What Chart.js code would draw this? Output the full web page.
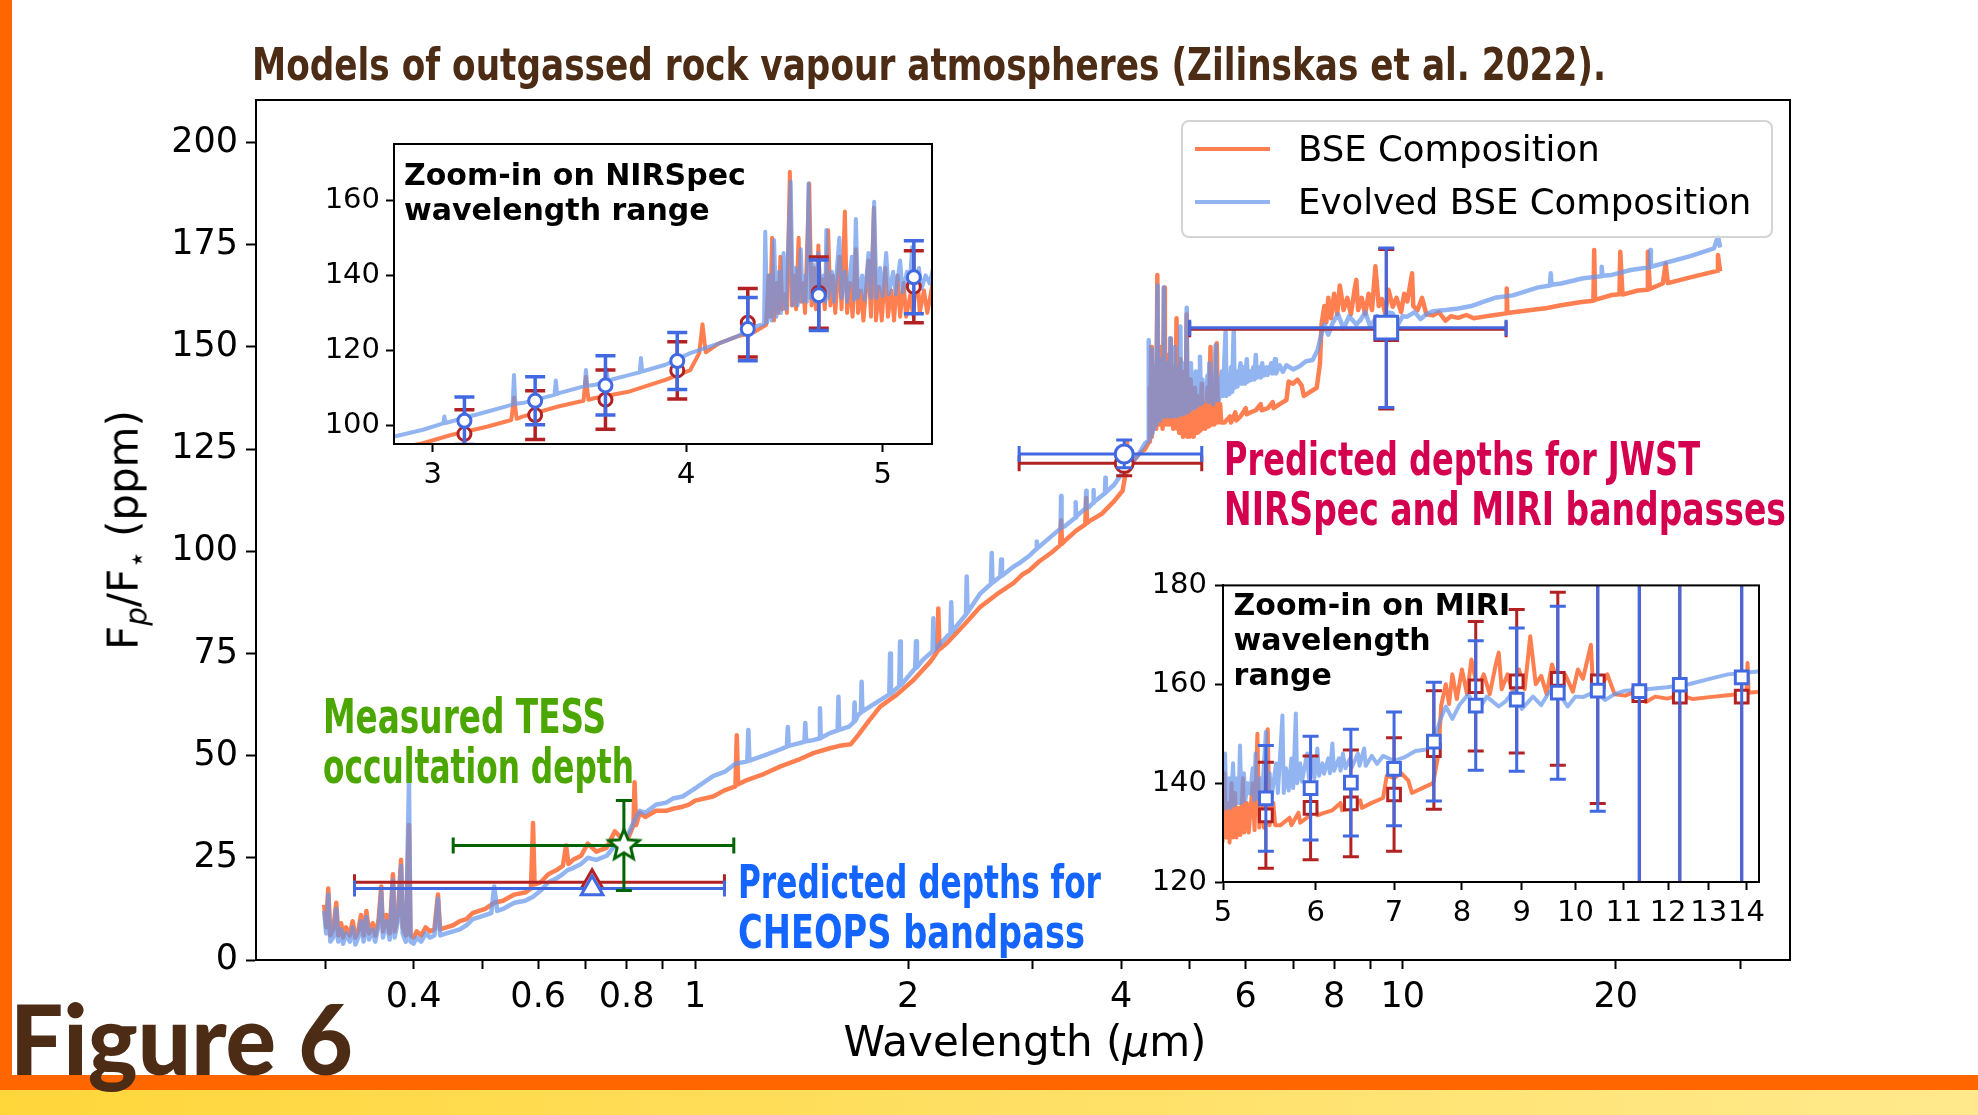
<!DOCTYPE html>
<html>
<head>
<meta charset="utf-8">
<title>Rock vapour atmospheres</title>
<script src="https://cdn.jsdelivr.net/npm/chart.js@4.4.1/dist/chart.umd.min.js"></script>
<style>
  html, body { margin: 0; padding: 0; background: #fff; }
  #page { position: relative; width: 1978px; height: 1115px; overflow: hidden; background: #fff; }
  #page canvas { position: absolute; }
  .txt { position: absolute; white-space: nowrap; transform-origin: 0 0; }
  #leftBar { position: absolute; left: 0; top: 0; width: 12px; height: 1075px; background: #ff6600; }
  #band { position: absolute; left: 0; top: 1075px; width: 1978px; height: 15px; background: #ff6600; }
  #strip { position: absolute; left: 0; top: 1090px; width: 1978px; height: 25px; background: linear-gradient(to right, #ffd63a, #ffe98c); }
  #legend { position: absolute; left: 1181px; top: 120px; width: 588px; height: 114px; border: 2px solid #d4d4d4; border-radius: 8px; background: rgba(255,255,255,0.8); }
  .swatch { position: absolute; left: 12px; width: 75px; height: 4px; }
  #ylab { position: absolute; left: 126px; top: 530px; transform: translate(-50%, -50%) rotate(-90deg); font: 42px "DejaVu Sans", sans-serif; white-space: nowrap; color: #000; }
  #ylab sub { font-size: 0.7em; vertical-align: -0.3em; }
</style>
</head>
<body>
<div id="page">
  <canvas id="mainChart" width="1978" height="1115" style="left:0;top:0"></canvas>
  <canvas id="nirChart" width="650" height="390" style="left:300px;top:120px"></canvas>
  <canvas id="miriChart" width="670" height="380" style="left:1110px;top:560px"></canvas>
  <div id="leftBar"></div>
  <div id="band"></div>
  <div id="strip"></div>
  <div id="legend">
    <div class="swatch" style="top:25px;background:#ff7f50"></div>
    <div class="swatch" style="top:78px;background:rgba(100,149,237,0.7)"></div>
  </div>
  <div id="ylab">F<sub><i>p</i></sub>/F<sub>⋆</sub> (ppm)</div>
</div>

<script>
// --- spectrum: BSE composition (wavelength um, Fp/F* ppm) ---
const bseWave = [
  0.299,0.301,0.303,0.305,0.308,0.311,0.313,0.316,0.318,0.321,0.325,0.328,0.331,0.334,0.337,0.340,0.343,0.346,0.350,0.353,
  0.357,0.360,0.362,0.366,0.370,0.374,0.376,0.380,0.384,0.386,0.390,0.394,0.396,0.400,0.404,0.410,0.416,0.422,0.428,0.433,
  0.436,0.445,0.455,0.465,0.475,0.485,0.495,0.505,0.520,0.535,0.555,0.575,0.586,0.590,0.593,0.605,0.620,0.637,0.650,0.657,
  0.662,0.672,0.690,0.705,0.725,0.750,0.770,0.790,0.805,0.818,0.821,0.825,0.835,0.850,0.880,0.910,0.930,0.960,0.980,
  1.000,1.060,1.100,1.140,1.145,1.150,1.183,1.250,1.318,1.400,1.469,1.550,1.600,1.660,1.700,1.760,1.826,1.930,2.035,2.150,
  2.200,2.206,2.215,2.268,2.400,2.530,2.670,2.817,
  2.900,2.967,3.063,3.190,3.280,3.290,3.300,3.322,3.459,3.560,3.570,3.580,3.603,3.752,3.907,4.019,4.060,4.075,4.090,4.152,
  4.236,4.323,4.380,
  4.392,4.400,4.410,4.420,4.432,4.442,4.452,4.462,4.475,4.485,4.500,4.510,4.522,4.532,4.545,4.555,4.568,4.578,4.600,4.612,
  4.625,4.635,4.648,4.658,4.670,4.682,4.700,4.712,4.725,4.738,4.760,4.772,4.790,4.802,4.818,4.832,4.850,4.862,4.878,4.892,
  4.920,4.934,4.950,4.962,4.980,4.995,5.015,5.030,5.050,5.065,5.085,5.100,5.120,5.135,5.160,5.175,5.200,5.215,5.240,5.260,
  5.300,5.320,5.350,5.370,5.400,5.420,5.460,5.480,5.520,5.540,
  5.600,5.700,5.720,5.800,5.820,5.900,6.000,6.020,6.100,6.200,6.300,6.320,6.450,6.550,6.570,6.700,6.850,6.900,7.000,7.100,
  7.200,7.250,7.400,7.560,7.640,7.680,
  7.750,7.800,7.850,7.920,8.000,8.080,8.150,8.250,8.350,8.450,8.550,8.600,8.650,8.750,8.850,8.950,9.050,9.150,9.250,9.350,
  9.450,9.550,9.680,9.800,9.950,10.050,10.150,10.310,10.350,10.500,10.650,10.800,
  11.030,11.250,11.490,11.700,11.980,12.300,12.600,13.020,13.500,14.000,14.030,14.060,14.800,16.000,16.740,17.900,18.600,18.650,18.700,19.750,
  20.250,20.300,20.450,21.500,22.170,22.210,22.350,23.320,23.530,23.700,25.500,27.540,27.860,27.900,28.100
];
const bseFlux = [
  13.5,8,17.5,6,7.5,14,6,9,5.5,8,6,9.5,5.5,7,11,6,12,6.5,9,6,
  10,18,7,11,6.5,21,7,11,24.5,8,6,33,6,5.5,7,6,8,7,7.5,16,
  7.5,8,8.5,9.5,10,11.5,12,12.5,14,14.5,16,16.5,17.5,33.5,18.5,19,21,22,23,28,
  23.5,24.5,25.5,28.5,26.5,27.5,31.5,29.5,30,33,43.5,33,36,35,36.5,36.5,37,37.5,38,
  39,40,41.5,42.5,55,43,44,45.5,47.3,49,50.6,51.8,52.4,52.8,55,58.5,62,65,68.5,73,
  75.5,86,76,77.5,82,86.4,89.5,92.2,
  94.3,95.3,97.5,99.7,101.5,107.5,101.8,102.4,105.1,106.6,113,106.9,107.3,109.1,112.2,114.8,119.3,127,119.5,121.9,
  123.7,125,126.8,
  140,129,150,128,138,130,145,131,135,130,167.6,132,140,131,150,133,138,130,164.5,132,
  142,131,148,133,139,131,152,132,140,130,145,131,157,130,138,129,147,130,136,128,
  144,129,158,128,137,128,142,129,136,128,140,129,138,129,135,129.5,141,130,136,130,
  140,130.5,150,131,138,131,150.9,131.5,136,131.5,
  131.5,133,131.5,134,132,133,135,133.5,134,134.5,136,134.5,135,136.5,135,136,137,141.5,141,142,
  140.5,138,139,140,146,155.7,
  160,156,162,157,163,158,165,159,162,158,164,166.4,159,162,158,163,159,169.7,160,161.7,
  158,164,159.8,162,158.5,163,161.1,168,160,159,162,158,
  157.7,158.5,156.4,157.5,157.1,157.8,157,157.4,157.8,158.2,164.3,158.3,158.8,159.5,160.2,161,161.3,173.7,161.5,162.7,
  162.9,173.3,162.8,163.8,164,173.3,164.2,165.5,170.4,165.6,167,168.4,168.6,172.5,168.5
];

// --- spectrum: evolved BSE composition ---
const evoWave = [
  0.299,0.301,0.303,0.305,0.308,0.311,0.313,0.316,0.318,0.321,0.325,0.328,0.331,0.334,0.337,0.340,0.343,0.346,0.350,0.353,
  0.357,0.360,0.362,0.366,0.370,0.374,0.376,0.380,0.384,0.386,0.390,0.394,0.396,0.400,0.404,0.410,0.416,0.422,0.428,0.433,
  0.436,0.445,0.455,0.465,0.475,0.485,0.495,0.505,0.515,0.520,0.525,0.535,0.555,0.575,0.590,0.605,0.620,0.637,0.650,0.660,
  0.672,0.690,0.705,0.725,0.750,0.770,0.790,0.805,0.820,0.835,0.850,0.880,0.910,0.930,0.960,0.980,
  1.000,1.030,1.060,1.100,1.140,1.185,1.189,1.193,1.250,1.318,1.348,1.352,1.356,1.400,1.427,1.431,1.435,1.469,1.497,1.501,
  1.505,1.550,1.590,1.594,1.598,1.650,1.676,1.680,1.684,1.700,1.715,1.719,1.723,1.826,1.881,1.886,1.891,1.943,1.948,1.953,
  2.035,2.046,2.052,2.058,2.100,2.165,2.171,2.177,2.268,2.295,2.301,2.307,2.400,2.414,2.420,2.426,2.530,2.618,2.625,2.632,
  2.700,2.707,2.714,2.817,
  2.872,2.967,3.036,3.040,3.044,3.063,3.190,3.285,3.290,3.295,3.322,3.445,3.450,3.455,3.459,3.565,3.570,3.575,3.603,3.650,
  3.655,3.660,3.752,3.795,3.800,3.805,3.907,4.019,4.152,4.236,4.323,4.370,
  4.376,4.386,4.398,4.408,4.420,4.432,4.445,4.455,4.468,4.480,4.504,4.515,4.528,4.540,4.556,4.566,4.580,4.588,4.596,4.608,
  4.620,4.632,4.648,4.660,4.675,4.685,4.690,4.700,4.720,4.732,4.760,4.772,4.790,4.802,4.828,4.840,4.850,4.862,4.885,4.898,
  4.920,4.935,4.952,4.965,4.985,5.000,5.020,5.035,5.060,5.075,5.100,5.115,5.140,5.155,5.170,5.185,5.210,5.225,5.250,5.274,
  5.300,5.315,5.330,5.345,5.380,5.395,5.440,5.455,5.480,5.500,5.550,5.570,5.620,5.635,5.660,5.690,5.720,5.740,5.770,5.785,
  5.820,5.840,5.900,5.920,5.960,5.985,6.020,6.040,6.080,6.100,6.150,6.170,6.200,6.220,6.280,6.300,6.330,6.360,6.420,6.440,
  6.520,6.540,6.600,6.620,6.700,6.770,6.850,7.000,7.140,7.300,7.460,7.580,7.680,
  7.750,7.850,7.960,8.100,8.250,8.400,8.600,8.720,8.850,9.000,9.200,9.350,9.500,9.680,9.850,10.000,10.150,10.400,10.600,10.800,
  11.030,
  11.500,11.980,12.500,13.020,13.500,14.310,15.500,16.150,16.190,16.230,16.740,18.000,19.070,19.110,19.150,19.750,21.000,22.350,22.390,22.430,
  23.320,25.500,27.540,27.900,28.100
];
const evoFlux = [
  12,6.5,16,4.5,5.5,12.5,4.5,7.5,4,6.5,4.5,8,3.8,5.5,9.5,4.5,10.5,5,7.5,4.5,
  8.5,16.5,5.5,9.5,5,19.5,5.5,9.5,23,6.5,4.5,43.2,4.5,4,5.5,4.5,6.5,5.5,6,15,
  6,6.5,7,7.5,8.5,10,10.5,11,11.5,18,12,12.5,14,14.5,15.5,17,19,20,21,22,
  22.5,23.5,25,24.5,25.5,28,29,31,34,36.5,36,38,38.5,39.5,40,41,
  42,43.5,45,46,48,48.6,56.3,48.8,50,51.5,52.2,57,52.4,53,53.4,58,53.5,53.8,54.2,61.6,
  54.3,55.5,56.2,64.4,56.3,57.1,58.2,63,58.5,60,60.5,68.1,60.8,63.6,65,75,65.2,67,77.9,67.2,
  70.9,71.3,78,71.6,73.5,75.5,83.6,75.8,79.1,80,87.5,80.3,84,84.5,93.8,85,89.7,92,99.6,92.3,
  93.8,98,94,96.2,
  97.1,98.9,100.6,102.4,100.7,101.1,103.7,105.6,113.5,105.8,106,108.2,112,108.4,108.6,110.5,114.8,110.6,110.8,111.8,
  115,112,113.5,114.2,118,114.4,116.2,119.3,121.9,123.7,126.4,127,
  151.6,127.5,140,128,149.4,129,141,130,146,131,165,132,142,132,147,133,140,133,164.5,134,
  143,133,146,134,140,133,152.1,134,141,133,150,134,141,133,145,133.5,155,134,140,133.5,
  146,134,159.6,134,142,134.5,146,135,141,135,144,135.5,141,136,147.6,136,142,136.5,140,137.9,
  143,136.5,146,137,141,136,150.4,137,142,137,144,138,153.7,138,143,138.5,145,139,154.1,140,
  144,140.3,146,141,145,141,147,141.5,144,141.9,145,142,148,142.5,145,142.5,146,143,145,143.1,
  146,143.5,147,143.5,145.5,143.9,145.5,144.5,145.2,146.5,146.8,149.2,153.3,
  155.5,153,155.8,158,154.5,157.5,155.5,156.6,158.5,155,157.5,155.8,158.5,158.2,155.5,157.5,157.4,158.5,156.8,158,
  158.7,
  159,159.4,160,161.1,162,162.6,164.5,165,168,165.2,165.5,166.8,167.3,169.6,167.4,167.6,168.8,169.5,173.7,169.6,
  170.4,172.2,174.1,177,174.3
];

// --- band-integrated depths on the main panel (CHEOPS, NIRSpec, MIRI) ---
const bandCentre = [0.715, 4.04, 9.48];
const bandLow = [0.33, 2.87, 5.0];
const bandHigh = [1.10, 5.2, 14.0];
const bandBse = [19.0, 121.5, 154.3];
const bandBseErr = [0, 3.0, 19.5];
const bandEvo = [17.5, 123.8, 154.7];
const bandEvoErr = [0, 3.4, 19.5];

// --- measured TESS occultation depth ---
const tessWave = [0.793];
const tessDepth = [28];
const tessErr = [11];
const tessLow = [0.455];
const tessHigh = [1.134];

// --- NIRSpec inset bins ---
const nirWave = [3.11, 3.37, 3.65, 3.96, 4.29, 4.65, 5.18];
const nirBse = [97.8, 102.8, 106.9, 114.7, 127.4, 135.4, 137.0];
const nirBseErr = [6.4, 6.5, 7.9, 7.6, 9.1, 9.5, 9.6];
const nirEvo = [101.3, 106.6, 110.7, 117.2, 125.7, 134.7, 139.5];
const nirEvoErr = [6.3, 6.4, 7.9, 7.6, 8.4, 9.4, 9.7];

// --- MIRI inset bins ---
const miriWave = [5.44, 5.94, 6.43, 7.0, 7.57, 8.22, 8.91, 9.66, 10.45, 11.34, 12.28, 13.87];
const miriBse = [133.5, 135.0, 135.9, 137.7, 146.7, 159.6, 160.6, 161.1, 160.6, 157.8, 157.5, 157.5];
const miriBseErr = [10.7, 10.5, 10.8, 11.5, 12.0, 13.1, 14.5, 17.5, 24.7, 40, 60, 90];
const miriEvo = [136.9, 139.0, 140.1, 142.9, 148.4, 155.7, 156.9, 158.3, 158.7, 158.6, 159.9, 161.4];
const miriEvoErr = [10.7, 10.5, 10.8, 11.5, 12.0, 13.1, 14.5, 17.5, 24.4, 40, 60, 90];

// --- axis ticks ---
const mainXTicks = [0.3, 0.4, 0.5, 0.6, 0.7, 0.8, 0.9, 1, 2, 3, 4, 5, 6, 7, 8, 9, 10, 20, 30];
const mainXLabels = [0.4, 0.6, 0.8, 1, 2, 4, 6, 8, 10, 20];
const mainYTicks = [0, 25, 50, 75, 100, 125, 150, 175, 200];
const nirXTicks = [3, 4, 5];
const nirYTicks = [100, 120, 140, 160];
const miriXTicks = [5, 6, 7, 8, 9, 10, 11, 12, 13, 14];
const miriYTicks = [120, 140, 160, 180];

const bseColor = '#ff7f50';
const evoColor = 'rgba(100,149,237,0.7)';
const redErr = '#b22222';
const blueErr = '#4169e1';
const greenErr = '#006400';

Chart.defaults.font.family = "'DejaVu Sans', sans-serif";
Chart.defaults.color = '#000';

const toXY = (w, f) => w.map((x, i) => ({ x: x, y: f[i] }));

// error bars drawn right before each dataset's markers
const errorBars = {
  id: 'errorBars',
  beforeDatasetDraw(chart, args) {
    const ds = chart.data.datasets[args.index];
    const eb = ds.errorBars;
    if (!eb) return;
    const { ctx, chartArea: a, scales } = chart;
    const xs = scales.x, ys = scales.y;
    const cap = eb.cap || 8;
    ctx.save();
    ctx.beginPath();
    ctx.rect(a.left, a.top, a.right - a.left, a.bottom - a.top);
    ctx.clip();
    ctx.strokeStyle = eb.color;
    ctx.lineWidth = eb.width || 3;
    ctx.lineCap = 'butt';
    ds.data.forEach((p, i) => {
      const px = xs.getPixelForValue(p.x), py = ys.getPixelForValue(p.y);
      ctx.beginPath();
      if (eb.xLow) {
        const x1 = xs.getPixelForValue(eb.xLow[i]), x2 = xs.getPixelForValue(eb.xHigh[i]);
        ctx.moveTo(x1, py); ctx.lineTo(x2, py);
        ctx.moveTo(x1, py - cap); ctx.lineTo(x1, py + cap);
        ctx.moveTo(x2, py - cap); ctx.lineTo(x2, py + cap);
      }
      if (eb.yErr && eb.yErr[i] > 0) {
        const y1 = ys.getPixelForValue(p.y + eb.yErr[i]), y2 = ys.getPixelForValue(p.y - eb.yErr[i]);
        ctx.moveTo(px, y1); ctx.lineTo(px, y2);
        ctx.moveTo(px - cap, y1); ctx.lineTo(px + cap, y1);
        ctx.moveTo(px - cap, y2); ctx.lineTo(px + cap, y2);
      }
      ctx.stroke();
    });
    ctx.restore();
  }
};

function framePlugin(fill) {
  return {
    id: 'frame',
    beforeDraw(chart) {
      if (!fill) return;
      const a = chart.chartArea, ctx = chart.ctx;
      ctx.save();
      ctx.fillStyle = fill;
      ctx.fillRect(a.left, a.top, a.right - a.left, a.bottom - a.top);
      ctx.restore();
    },
    afterDatasetsDraw(chart) {
      const a = chart.chartArea, ctx = chart.ctx;
      ctx.save();
      ctx.strokeStyle = '#000';
      ctx.lineWidth = 2;
      ctx.strokeRect(a.left, a.top, a.right - a.left, a.bottom - a.top);
      ctx.restore();
    }
  };
}

function titlePlugin(lines, dx, dy, lh) {
  return {
    id: 'insetTitle',
    beforeDatasetsDraw(chart) {
      const ctx = chart.ctx, a = chart.chartArea;
      ctx.save();
      ctx.font = "bold 30px 'DejaVu Sans'";
      ctx.fillStyle = '#000';
      ctx.textBaseline = 'alphabetic';
      lines.forEach((s, i) => ctx.fillText(s, a.left + dx, a.top + dy + i * lh));
      ctx.restore();
    }
  };
}

function makeStar(r, color, lw) {
  const s = Math.ceil(2 * r + 2 * lw);
  const c = document.createElement('canvas');
  c.width = c.height = s;
  const g = c.getContext('2d');
  g.beginPath();
  for (let k = 0; k < 10; k++) {
    const rr = k % 2 ? r * 0.45 : r;
    const ang = -Math.PI / 2 + k * Math.PI / 5;
    g.lineTo(s / 2 + rr * Math.cos(ang), s / 2 + rr * Math.sin(ang));
  }
  g.closePath();
  g.fillStyle = '#fff';
  g.fill();
  g.lineWidth = lw;
  g.strokeStyle = color;
  g.lineJoin = 'miter';
  g.stroke();
  return c;
}

function spectrumSets(width) {
  return [
    { label: 'Evolved BSE Composition', data: toXY(evoWave, evoFlux), showLine: true, borderColor: evoColor,
      borderWidth: width, borderJoinStyle: 'round', pointRadius: 0, order: 9 },
    { label: 'BSE Composition', data: toXY(bseWave, bseFlux), showLine: true, borderColor: bseColor,
      borderWidth: width, borderJoinStyle: 'round', pointRadius: 0, order: 10 }
  ];
}

function axis(type, min, max, tickVals, labelVals, size, fontSize, pad, tl) {
  const isX = size.h !== undefined;
  return {
    type: type, min: min, max: max,
    afterBuildTicks: s => { s.ticks = tickVals.map(v => ({ value: v })); },
    afterFit: s => { if (isX) s.height = size.h; else s.width = size.w; },
    ticks: {
      autoSkip: false, maxRotation: 0, minRotation: 0, padding: pad, color: '#000',
      font: { size: fontSize },
      callback: v => (labelVals.includes(v) ? String(v) : '')
    },
    grid: { display: true, drawOnChartArea: false, drawTicks: true, tickLength: tl, tickWidth: 2, tickColor: '#000' },
    border: { display: true, color: '#000', width: 2 }
  };
}

// === main panel ===
new Chart(document.getElementById('mainChart'), {
  type: 'scatter',
  data: {
    datasets: [
      { label: 'TESS', data: toXY(tessWave, tessDepth), pointStyle: makeStar(16, greenErr, 3),
        pointRadius: 16, order: 0,
        errorBars: { color: greenErr, xLow: tessLow, xHigh: tessHigh, yErr: tessErr, cap: 8, width: 3 } },
      { label: 'Evolved bands', data: toXY(bandCentre, bandEvo), pointStyle: ['triangle', 'circle', 'rect'],
        pointRadius: [12.5, 9, 16], pointBorderWidth: 3, pointBackgroundColor: '#fff', pointBorderColor: blueErr, order: 1,
        errorBars: { color: blueErr, xLow: bandLow, xHigh: bandHigh, yErr: bandEvoErr, cap: 8, width: 3 } },
      { label: 'BSE bands', data: toXY(bandCentre, bandBse), pointStyle: ['triangle', 'circle', 'rect'],
        pointRadius: [12.5, 9, 16], pointBorderWidth: 3, pointBackgroundColor: '#fff', pointBorderColor: redErr, order: 2,
        errorBars: { color: redErr, xLow: bandLow, xHigh: bandHigh, yErr: bandBseErr, cap: 8, width: 3 } },
      ...spectrumSets(4.5)
    ]
  },
  options: {
    responsive: false, animation: false, events: [],
    layout: { padding: { top: 100, right: 188, left: 0, bottom: 0 } },
    plugins: { legend: { display: false }, tooltip: { enabled: false } },
    scales: {
      x: axis('logarithmic', 0.2395, 35.27, mainXTicks, mainXLabels, { h: 155 }, 35, 8, 9),
      y: axis('linear', 0, 210.4, mainYTicks, mainYTicks, { w: 256 }, 35, 8, 10)
    }
  },
  plugins: [framePlugin(null), errorBars]
});

// === NIRSpec zoom ===
new Chart(document.getElementById('nirChart'), {
  type: 'scatter',
  data: {
    datasets: [
      { label: 'Evolved NIRSpec', data: toXY(nirWave, nirEvo), pointStyle: 'circle', pointRadius: 6.5,
        pointBorderWidth: 3, pointBackgroundColor: '#fff', pointBorderColor: blueErr, order: 1,
        errorBars: { color: blueErr, yErr: nirEvoErr, cap: 10, width: 3.5 } },
      { label: 'BSE NIRSpec', data: toXY(nirWave, nirBse), pointStyle: 'circle', pointRadius: 6.5,
        pointBorderWidth: 3, pointBackgroundColor: '#fff', pointBorderColor: redErr, order: 2,
        errorBars: { color: redErr, yErr: nirBseErr, cap: 10, width: 3.5 } },
      ...spectrumSets(4)
    ]
  },
  options: {
    responsive: false, animation: false, events: [],
    layout: { padding: { top: 24, right: 18, left: 0, bottom: 0 } },
    plugins: { legend: { display: false }, tooltip: { enabled: false } },
    scales: {
      x: axis('logarithmic', 2.871, 5.288, nirXTicks, nirXTicks, { h: 66 }, 29, 6, 8),
      y: axis('linear', 95.1, 175, nirYTicks, nirYTicks, { w: 94 }, 29, 6, 8)
    }
  },
  plugins: [framePlugin('#fff'), titlePlugin(['Zoom-in on NIRSpec', 'wavelength range'], 10, 41, 34.5), errorBars]
});

// === MIRI zoom ===
new Chart(document.getElementById('miriChart'), {
  type: 'scatter',
  data: {
    datasets: [
      { label: 'Evolved MIRI', data: toXY(miriWave, miriEvo), pointStyle: 'rect', pointRadius: 9,
        pointBorderWidth: 3, pointBackgroundColor: '#fff', pointBorderColor: blueErr, order: 1,
        errorBars: { color: blueErr, yErr: miriEvoErr, cap: 8, width: 3 } },
      { label: 'BSE MIRI', data: toXY(miriWave, miriBse), pointStyle: 'rect', pointRadius: 9,
        pointBorderWidth: 3, pointBackgroundColor: '#fff', pointBorderColor: redErr, order: 2,
        errorBars: { color: redErr, yErr: miriBseErr, cap: 8, width: 3 } },
      ...spectrumSets(4)
    ]
  },
  options: {
    responsive: false, animation: false, events: [],
    layout: { padding: { top: 22, right: 21, left: 0, bottom: 0 } },
    plugins: { legend: { display: false }, tooltip: { enabled: false } },
    scales: {
      x: axis('logarithmic', 5.0, 14.35, miriXTicks, miriXTicks, { h: 58 }, 29, 6, 8),
      y: axis('linear', 120, 180, miriYTicks, miriYTicks, { w: 113 }, 29, 8, 8)
    }
  },
  plugins: [framePlugin('#fff'), titlePlugin(['Zoom-in on MIRI', 'wavelength', 'range'], 10.6, 29.7, 35), errorBars]
});

// === page text ===
const page = document.getElementById('page');
const mctx = document.createElement('canvas').getContext('2d');
const narrow = "'Liberation Sans Narrow', 'DejaVu Sans Condensed', 'Liberation Sans', sans-serif";
const plain = "'DejaVu Sans', sans-serif";

function placeText(t) {
  const el = document.createElement('div');
  el.className = 'txt';
  if (t.html) el.innerHTML = t.html; else el.textContent = t.text;
  const font = `normal ${t.weight || 'normal'} ${t.size}px ${t.family}`;
  el.style.font = font;
  el.style.lineHeight = t.size + 'px';
  el.style.color = t.color || '#000';
  page.appendChild(el);
  mctx.font = font;
  const m = mctx.measureText(el.textContent);
  const asc = m.fontBoundingBoxAscent, desc = m.fontBoundingBoxDescent;
  el.style.top = (t.base - (t.size + asc - desc) / 2) + 'px';
  const w = el.getBoundingClientRect().width;
  if (t.width) {
    el.style.left = t.x + 'px';
    el.style.transform = `scaleX(${t.width / w})`;
  } else if (t.cx) {
    el.style.left = (t.cx - w / 2) + 'px';
  } else {
    el.style.left = t.x + 'px';
  }
  return el;
}

[
  { text: 'Models of outgassed rock vapour atmospheres (Zilinskas et al. 2022).', x: 252, base: 80, size: 44,
    width: 1354, color: '#4d2c15', family: narrow, weight: 'bold' },
  { text: 'Figure 6', x: 10, base: 1075, size: 98, width: 343, color: '#4d2c15', family: "'Lato', sans-serif", weight: '900' },
  { text: 'Measured TESS', x: 323, base: 733, size: 48, width: 283, color: '#4ba600', family: narrow, weight: 'bold' },
  { text: 'occultation depth', x: 323, base: 783, size: 48, width: 311, color: '#4ba600', family: narrow, weight: 'bold' },
  { text: 'Predicted depths for', x: 738, base: 898, size: 47, width: 363, color: '#1464ff', family: narrow, weight: 'bold' },
  { text: 'CHEOPS bandpass', x: 738, base: 948, size: 47, width: 347, color: '#1464ff', family: narrow, weight: 'bold' },
  { text: 'Predicted depths for JWST', x: 1224, base: 475, size: 46, width: 476, color: '#d4004f', family: narrow, weight: 'bold' },
  { text: 'NIRSpec and MIRI bandpasses', x: 1224, base: 525, size: 46, width: 562, color: '#d4004f', family: narrow, weight: 'bold' },
  { text: 'BSE Composition', x: 1298, base: 161, size: 35.5, family: plain },
  { text: 'Evolved BSE Composition', x: 1298, base: 214, size: 35.5, family: plain },
  { html: 'Wavelength (<i>μ</i>m)', cx: 1025, base: 1056, size: 42, family: plain }
].forEach(placeText);
</script>
</body>
</html>
